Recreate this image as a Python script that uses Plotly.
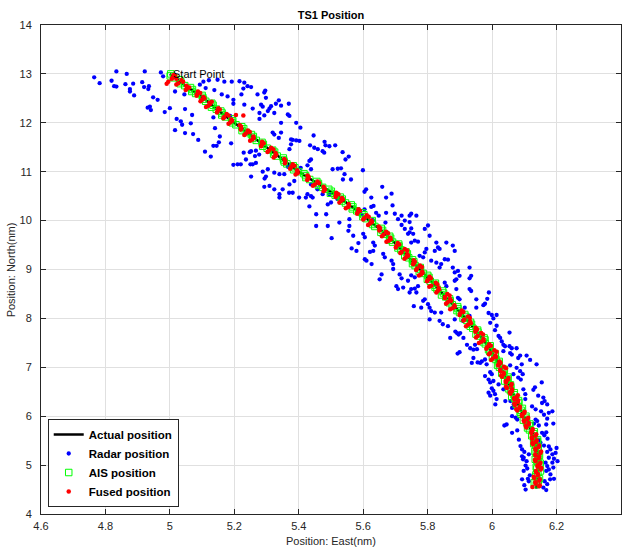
import plotly.graph_objects as go

# ---- Track data (nautical miles) ----
actual_east = [5.000, 5.050, 5.105, 5.150, 5.200, 5.250, 5.300, 5.350, 5.400, 5.460,
               5.520, 5.572, 5.620, 5.665, 5.705, 5.742, 5.776, 5.812, 5.848, 5.884,
               5.918, 5.950, 5.980, 6.005, 6.027, 6.045, 6.062, 6.080, 6.098, 6.118,
               6.136, 6.141, 6.143, 6.140, 6.137]
actual_north = [13.00, 12.75, 12.50, 12.25, 12.00, 11.75, 11.50, 11.25, 11.00, 10.75,
                10.50, 10.25, 10.00, 9.75, 9.50, 9.25, 9.00, 8.75, 8.50, 8.25,
                8.00, 7.75, 7.50, 7.25, 7.00, 6.75, 6.50, 6.25, 6.00, 5.75,
                5.50, 5.25, 5.00, 4.75, 4.52]

radar_east = [
    4.765, 4.782, 4.834, 4.866, 4.922, 4.972, 4.979, 4.819, 4.827, 4.834,
    4.862, 4.886, 4.876, 4.876, 4.889, 4.914, 4.920, 4.935, 4.933, 4.948,
    4.962, 4.931, 4.938, 4.941, 4.984, 5.000, 5.016, 5.021, 5.034, 5.038,
    5.016, 5.047, 5.047, 5.065, 5.069, 5.045, 5.072, 5.088, 5.093, 5.104,
    5.111, 5.121, 5.138, 5.148, 5.135, 5.140, 5.109, 5.127, 5.135, 5.145,
    5.152, 5.155, 5.161, 5.169, 5.179, 5.187, 5.192, 5.197, 5.190, 5.197,
    5.216, 5.231, 5.241, 5.252, 5.228, 5.222, 5.197, 5.231, 5.257, 5.272,
    5.293, 5.296, 5.298, 5.283, 5.288, 5.278, 5.293, 5.304, 5.278, 5.314,
    5.309, 5.324, 5.329, 5.338, 5.345, 5.369, 5.366, 5.371, 5.345, 5.392,
    5.319, 5.324, 5.345, 5.338, 5.376, 5.381, 5.392, 5.402, 5.376, 5.371,
    5.405, 5.446, 5.435, 5.448, 5.459, 5.480, 5.483, 5.495, 5.474, 5.479,
    5.513, 5.536, 5.555, 5.545, 5.438, 5.433, 5.427, 5.438, 5.406, 5.505,
    5.521, 5.531, 5.542, 5.537, 5.599, 5.562, 5.609, 5.604, 5.659, 5.625,
    5.632, 5.625, 5.604, 5.593, 5.583, 5.640, 5.648, 5.671, 5.671, 5.669,
    5.630, 5.557, 5.557, 5.526, 5.485, 5.490, 5.454, 5.454, 5.433, 5.427,
    5.422, 5.438, 5.401, 5.381, 5.370, 5.350, 5.340, 5.340, 5.324, 5.309,
    5.293, 5.298, 5.294, 5.288, 5.304, 5.267, 5.257, 5.250, 5.248, 5.252,
    5.267, 5.264, 5.277, 5.229, 5.236, 5.210, 5.220, 5.252, 5.355, 5.366,
    5.376, 5.324, 5.340, 5.438, 5.458, 5.479, 5.474, 5.495, 5.500, 5.490,
    5.443, 5.520, 5.371, 5.386,
    5.688, 5.691, 5.698, 5.719, 5.708, 5.749, 5.744, 5.765, 5.729, 5.744,
    5.719, 5.729, 5.749, 5.744, 5.755, 5.760, 5.770, 5.749, 5.791, 5.801,
    5.739, 5.806, 5.827, 5.822, 5.832, 5.837, 5.858, 5.878, 5.884, 5.863,
    5.853, 5.811, 5.791, 5.796, 5.775, 5.786, 5.827, 5.842, 5.837, 5.878,
    5.884, 5.894, 5.899, 5.930, 5.889, 5.884, 5.935, 5.930, 5.853, 5.858,
    5.889, 5.930, 5.935, 5.899, 5.894, 5.915, 5.951, 5.930, 5.884, 5.909,
    5.951, 5.502, 5.554, 5.569, 5.585, 5.579, 5.564, 5.600, 5.605, 5.631,
    5.636, 5.621, 5.631, 5.605, 5.610, 5.626, 5.662, 5.667, 5.688, 5.693,
    5.693, 5.657, 5.651, 5.713, 5.719, 5.703, 5.708, 5.724, 5.749, 5.744,
    5.760, 5.770, 5.765, 5.749, 5.760, 5.739, 5.791, 5.786, 5.757, 5.780,
    5.801, 5.806, 5.811, 5.822, 5.806, 5.837, 5.847, 5.863, 5.842, 5.990,
    5.985,
    5.886, 5.891, 5.901, 5.896, 5.870, 5.911, 5.922, 5.899, 5.893, 5.932,
    5.942, 5.947, 5.953, 5.937, 5.955, 5.968, 5.942, 5.978, 5.994, 5.999,
    5.989, 5.994, 6.004, 5.999, 6.004, 5.989, 5.994, 6.009, 6.020, 6.014,
    6.035, 5.973, 5.978, 5.989, 5.999, 6.004, 6.014, 5.994, 6.014, 6.009,
    6.054, 6.020, 6.025, 6.030, 6.035, 6.040, 6.054, 6.061, 6.076, 6.035,
    6.056, 6.061, 6.087, 6.081, 6.107, 6.118, 6.138, 6.092, 6.076, 6.056,
    6.087, 6.095, 6.081, 6.089, 6.066, 6.133, 6.128, 6.154, 6.097, 6.103,
    6.076, 6.103, 6.143, 6.159, 5.978, 5.983, 5.963,
    6.010, 6.041, 6.057, 6.067, 6.062, 6.124, 6.135, 6.155, 6.163, 6.171,
    6.152, 6.161, 6.176, 6.187, 6.062, 6.073, 6.078, 6.045, 6.038, 6.062,
    6.078, 6.135, 6.140, 6.130, 6.145, 6.171, 6.190, 6.168, 6.155, 6.168,
    6.162, 6.172, 6.145, 6.150, 6.161, 6.083, 6.088, 6.093, 6.100, 6.093,
    6.096, 6.114, 6.176, 6.181, 6.171, 6.200, 6.197, 6.187, 6.176, 6.203,
    6.192, 6.187, 6.166, 6.171, 6.176, 6.190, 6.168, 6.181, 6.192, 6.180,
    6.163, 6.171, 6.159, 6.168, 6.104, 6.109, 6.098, 6.117, 6.111, 6.093,
    6.100, 6.104, 6.114, 6.098, 6.107,
]
radar_north = [
    12.93, 12.81, 13.05, 13.00, 13.05, 13.03, 12.95, 12.86, 12.75, 12.74,
    12.79, 12.80, 12.69, 12.64, 12.56, 12.83, 12.73, 12.75, 12.69, 12.52,
    12.47, 12.31, 12.33, 12.26, 12.22, 12.30, 12.64, 12.08, 12.03, 11.96,
    11.85, 12.28, 11.79, 11.99, 12.16, 12.58, 11.77, 11.65, 12.78, 12.84,
    12.71, 12.87, 12.67, 12.88, 12.11, 11.89, 11.41, 11.31, 11.53, 11.53,
    11.60, 11.72, 12.58, 12.84, 12.54, 12.14, 12.84, 12.47, 11.58, 11.14,
    12.85, 12.82, 12.75, 12.73, 12.70, 12.58, 12.39, 12.37, 12.29, 12.58,
    12.62, 12.66, 12.51, 12.37, 12.33, 12.20, 12.15, 12.24, 12.08, 12.34,
    12.29, 12.20, 12.39, 12.46, 12.35, 12.39, 12.17, 12.14, 12.00, 12.00,
    11.80, 11.76, 11.80, 11.69, 11.66, 11.65, 11.64, 11.63, 11.56, 11.46,
    11.90, 11.74, 11.54, 11.49, 11.46, 11.61, 11.54, 11.52, 11.42, 11.39,
    11.54, 11.40, 11.31, 11.25, 11.25, 11.22, 11.13, 11.05, 11.08, 11.05,
    11.06, 11.07, 10.95, 10.84, 11.03, 10.84, 10.64, 10.59, 10.69, 10.47,
    10.30, 10.28, 10.23, 10.13, 10.20, 10.16, 10.10, 10.47, 10.16, 9.96,
    10.01, 10.03, 9.89, 9.96, 10.13, 9.89, 10.13, 9.89, 10.29, 10.54,
    10.47, 10.50, 10.47, 10.57, 10.57, 10.64, 10.54, 10.47, 10.64, 10.71,
    10.69, 10.90, 10.86, 11.00, 11.05, 11.18, 11.15, 11.15, 11.40, 11.42,
    11.43, 11.32, 11.35, 11.39, 11.25, 11.15, 11.15, 10.90, 10.95, 11.10,
    11.15, 10.98, 10.95, 10.74, 10.64, 10.61, 10.54, 10.54, 10.37, 10.33,
    10.47, 10.44, 10.74, 10.81,
    10.55, 10.31, 10.14, 10.10, 10.03, 10.14, 10.10, 10.10, 10.00, 9.97,
    9.91, 9.83, 9.84, 9.76, 9.73, 9.59, 9.57, 9.55, 9.83, 9.90,
    9.73, 9.69, 9.55, 9.38, 9.45, 9.42, 9.55, 9.49, 9.38, 9.20,
    9.21, 9.18, 9.35, 9.42, 9.28, 9.25, 9.14, 9.11, 9.04, 9.04,
    8.94, 8.97, 8.87, 9.04, 8.80, 8.77, 8.87, 8.82, 8.73, 8.66,
    8.60, 8.60, 8.56, 8.39, 8.42, 8.22, 8.22, 8.05, 7.98, 7.95,
    8.39, 9.64, 9.79, 9.69, 9.54, 9.38, 9.43, 9.73, 9.66, 9.55,
    9.49, 9.36, 9.38, 9.21, 9.18, 9.11, 9.32, 9.25, 9.18, 9.11,
    9.01, 8.90, 8.80, 8.90, 8.82, 8.66, 8.60, 8.63, 8.60, 8.53,
    8.61, 8.66, 8.53, 8.88, 8.84, 8.77, 8.39, 8.36, 8.25, 8.22,
    8.29, 8.22, 8.15, 8.12, 7.98, 7.95, 7.88, 7.84, 8.12, 8.53,
    8.40,
    7.73, 7.70, 7.70, 7.67, 7.60, 7.60, 7.46, 7.31, 7.28, 7.39,
    7.36, 7.46, 7.37, 7.09, 7.10, 7.12, 7.19, 7.16, 6.90, 6.86,
    6.75, 6.69, 6.72, 6.57, 6.52, 6.48, 6.42, 6.45, 6.65, 6.35,
    6.55, 8.27, 8.30, 8.11, 8.07, 8.00, 8.07, 7.91, 7.85, 7.76,
    7.71, 7.64, 7.60, 7.53, 7.46, 7.43, 7.43, 7.39, 7.39, 7.33,
    7.29, 7.26, 7.24, 7.19, 7.24, 7.15, 7.06, 7.06, 6.99, 7.04,
    6.92, 6.86, 6.79, 6.75, 6.86, 6.59, 6.54, 6.69, 6.55, 6.45,
    6.35, 6.35, 6.42, 6.38, 6.82, 7.06, 7.09,
    6.24, 6.31, 6.31, 6.24, 6.17, 6.20, 6.14, 6.27, 6.31, 6.24,
    6.10, 6.03, 6.07, 6.10, 6.00, 5.97, 5.93, 5.83, 5.81, 5.66,
    5.71, 5.93, 5.90, 5.85, 5.81, 5.95, 5.85, 5.83, 5.66, 5.67,
    5.61, 5.54, 5.52, 5.46, 5.40, 5.52, 5.39, 5.32, 5.27, 5.18,
    5.12, 5.22, 5.38, 5.32, 5.27, 5.35, 5.25, 5.22, 5.15, 5.08,
    5.13, 5.05, 5.05, 4.98, 4.91, 4.95, 4.88, 4.81, 4.72, 4.71,
    4.67, 4.61, 4.54, 4.49, 4.99, 4.93, 4.88, 4.79, 4.72, 4.71,
    4.59, 4.50, 4.67, 5.15, 5.08,
]

ais_east = [
    5.003, 5.012, 5.034, 5.046, 5.070, 5.080, 5.102, 5.111, 5.134, 5.144,
    5.162, 5.172, 5.195, 5.205, 5.229, 5.238, 5.259, 5.268, 5.290, 5.302,
    5.325, 5.333, 5.353, 5.363, 5.388, 5.399, 5.421, 5.434, 5.461, 5.474,
    5.501, 5.513, 5.535, 5.545, 5.568, 5.580, 5.602, 5.609, 5.628, 5.636,
    5.660, 5.669, 5.685, 5.691, 5.711, 5.717, 5.737, 5.741, 5.757, 5.761,
    5.778, 5.786, 5.804, 5.808, 5.823, 5.829, 5.849, 5.856, 5.870, 5.876,
    5.894, 5.899, 5.918, 5.921, 5.936, 5.940, 5.956, 5.961, 5.978, 5.979,
    5.991, 5.993, 6.010, 6.012, 6.022, 6.023, 6.036, 6.036, 6.049, 6.048,
    6.058, 6.057, 6.068, 6.070, 6.083, 6.081, 6.090, 6.090, 6.105, 6.107,
    6.116, 6.116, 6.129, 6.129, 6.141, 6.135, 6.142, 6.137, 6.144, 6.140,
    6.148, 6.139, 6.142, 6.135, 6.143, 6.137,
    5.001, 5.030, 5.032, 5.064, 5.068, 5.100, 5.104, 5.130, 5.129, 5.158,
    5.161, 5.192, 5.194, 5.223, 5.224, 5.253, 5.257, 5.286, 5.288, 5.319,
    5.322, 5.352, 5.355, 5.383, 5.384, 5.416, 5.422, 5.456, 5.461, 5.493,
    5.498, 5.529, 5.534, 5.563, 5.566, 5.596, 5.599, 5.628, 5.629, 5.656,
    5.655, 5.682, 5.682, 5.710, 5.708, 5.733, 5.729, 5.753, 5.753, 5.777,
    5.774, 5.800, 5.799, 5.824, 5.823, 5.846, 5.843, 5.868, 5.867, 5.893,
    5.891, 5.915, 5.910, 5.933, 5.932, 5.955, 5.950, 5.975, 5.972, 5.994,
    5.989, 6.009, 6.001, 6.022, 6.017, 6.038, 6.030, 6.049, 6.039, 6.057,
    6.051, 6.069, 6.061, 6.082, 6.075, 6.094, 6.087, 6.105, 6.097, 6.117,
    6.110, 6.131, 6.123, 6.141, 6.129, 6.143, 6.133, 6.147, 6.134, 6.149,
    6.137, 6.150, 6.136, 6.147, 6.131,
]
ais_north = [
    13.00, 12.92, 12.84, 12.76, 12.68, 12.60, 12.52, 12.44, 12.36, 12.28,
    12.20, 12.12, 12.04, 11.96, 11.88, 11.80, 11.72, 11.64, 11.56, 11.48,
    11.40, 11.32, 11.24, 11.16, 11.08, 11.00, 10.92, 10.84, 10.76, 10.68,
    10.60, 10.52, 10.44, 10.36, 10.28, 10.20, 10.12, 10.04, 9.96, 9.88,
    9.80, 9.72, 9.64, 9.56, 9.48, 9.40, 9.32, 9.24, 9.16, 9.08,
    9.00, 8.92, 8.84, 8.76, 8.68, 8.60, 8.52, 8.44, 8.36, 8.28,
    8.20, 8.12, 8.04, 7.96, 7.88, 7.80, 7.72, 7.64, 7.56, 7.48,
    7.40, 7.32, 7.24, 7.16, 7.08, 7.00, 6.92, 6.84, 6.76, 6.68,
    6.60, 6.52, 6.44, 6.36, 6.28, 6.20, 6.12, 6.04, 5.96, 5.88,
    5.80, 5.72, 5.64, 5.56, 5.48, 5.40, 5.32, 5.24, 5.16, 5.08,
    5.00, 4.92, 4.84, 4.76, 4.68, 4.60,
    12.96, 12.88, 12.80, 12.72, 12.64, 12.56, 12.48, 12.40, 12.32, 12.24,
    12.16, 12.08, 12.00, 11.92, 11.84, 11.76, 11.68, 11.60, 11.52, 11.44,
    11.36, 11.28, 11.20, 11.12, 11.04, 10.96, 10.88, 10.80, 10.72, 10.64,
    10.56, 10.48, 10.40, 10.32, 10.24, 10.16, 10.08, 10.00, 9.92, 9.84,
    9.76, 9.68, 9.60, 9.52, 9.44, 9.36, 9.28, 9.20, 9.12, 9.04,
    8.96, 8.88, 8.80, 8.72, 8.64, 8.56, 8.48, 8.40, 8.32, 8.24,
    8.16, 8.08, 8.00, 7.92, 7.84, 7.76, 7.68, 7.60, 7.52, 7.44,
    7.36, 7.28, 7.20, 7.12, 7.04, 6.96, 6.88, 6.80, 6.72, 6.64,
    6.56, 6.48, 6.40, 6.32, 6.24, 6.16, 6.08, 6.00, 5.92, 5.84,
    5.76, 5.68, 5.60, 5.52, 5.44, 5.36, 5.28, 5.20, 5.12, 5.04,
    4.96, 4.88, 4.80, 4.72, 4.64,
]

fused_east = [
    5.012, 5.009, 5.036, 5.026, 5.051, 5.053, 5.087, 5.084, 5.104, 5.100,
    5.123, 5.119, 5.150, 5.148, 5.176, 5.169, 5.191, 5.188, 5.217, 5.221,
    5.242, 5.236, 5.259, 5.256, 5.286, 5.285, 5.314, 5.307, 5.328, 5.327,
    5.355, 5.358, 5.381, 5.376, 5.395, 5.396, 5.427, 5.429, 5.458, 5.450,
    5.477, 5.481, 5.516, 5.515, 5.534, 5.531, 5.555, 5.553, 5.585, 5.583,
    5.611, 5.603, 5.625, 5.621, 5.648, 5.651, 5.671, 5.663, 5.684, 5.679,
    5.707, 5.703, 5.729, 5.719, 5.737, 5.733, 5.757, 5.756, 5.776, 5.767,
    5.783, 5.779, 5.806, 5.801, 5.825, 5.811, 5.834, 5.831, 5.861, 5.854,
    5.870, 5.862, 5.883, 5.877, 5.906, 5.901, 5.925, 5.914, 5.932, 5.925,
    5.949, 5.949, 5.966, 5.955, 5.973, 5.966, 5.991, 5.984, 6.007, 5.994,
    6.010, 6.002, 6.023, 6.020, 6.037, 6.025, 6.036, 6.028, 6.051, 6.042,
    6.061, 6.043, 6.062, 6.055, 6.080, 6.068, 6.081, 6.069, 6.086, 6.075,
    6.101, 6.092, 6.112, 6.098, 6.114, 6.104, 6.126, 6.122, 6.137, 6.123,
    6.138, 6.125, 6.146, 6.134, 6.152, 6.134, 6.146, 6.133, 6.150, 6.141,
    6.153, 6.136, 6.142, 6.129, 6.148, 6.134, 6.148, 6.125,
    4.995, 4.990, 5.020, 5.060, 5.130, 5.205, 5.228,
    5.016, 5.006, 5.041, 5.020, 5.053, 5.049, 5.094, 5.083, 5.107, 5.095,
    5.124, 5.112, 5.155, 5.146, 5.182, 5.166, 5.193, 5.182, 5.221, 5.220,
    5.248, 5.231, 5.260, 5.249, 5.291, 5.283, 5.321, 5.303, 5.330, 5.322,
    5.358, 5.357, 5.387, 5.373, 5.396, 5.390, 5.431, 5.426, 5.463, 5.444,
    5.479, 5.477, 5.523, 5.514, 5.537, 5.526, 5.556, 5.546, 5.590, 5.581,
    5.617, 5.600, 5.627, 5.615, 5.652, 5.650, 5.677, 5.658, 5.685, 5.672,
    5.712, 5.701, 5.736, 5.715, 5.739, 5.728, 5.760, 5.755, 5.782, 5.764,
    5.784, 5.773, 5.810, 5.798, 5.830, 5.805, 5.836, 5.827, 5.868, 5.853,
    5.873, 5.857, 5.884, 5.870, 5.911, 5.899, 5.931, 5.911, 5.934, 5.919,
    5.953, 5.948, 5.972, 5.950, 5.974, 5.959, 5.996, 5.982, 6.014, 5.990,
    6.012, 5.997, 6.026, 6.019, 6.043, 6.026, 6.036, 6.031, 6.049, 6.043,
    6.059, 6.046, 6.062, 6.057, 6.077, 6.069, 6.080, 6.071, 6.086, 6.078,
    6.099, 6.093, 6.109, 6.100, 6.113, 6.106, 6.125, 6.122, 6.135, 6.124,
    6.137, 6.127, 6.145, 6.135, 6.150, 6.135, 6.145, 6.135, 6.148, 6.141,
    6.151, 6.137, 6.142, 6.131, 6.146, 6.135, 6.146,
]
fused_north = [
    12.98, 12.93, 12.87, 12.81, 12.76, 12.70, 12.64, 12.58, 12.53, 12.47,
    12.41, 12.35, 12.30, 12.24, 12.18, 12.12, 12.07, 12.01, 11.95, 11.89,
    11.84, 11.78, 11.72, 11.66, 11.61, 11.55, 11.49, 11.43, 11.38, 11.32,
    11.26, 11.20, 11.15, 11.09, 11.03, 10.97, 10.92, 10.86, 10.80, 10.74,
    10.69, 10.63, 10.57, 10.51, 10.46, 10.40, 10.34, 10.28, 10.23, 10.17,
    10.11, 10.05, 10.00, 9.94, 9.88, 9.82, 9.77, 9.71, 9.65, 9.59,
    9.54, 9.48, 9.42, 9.36, 9.31, 9.25, 9.19, 9.13, 9.08, 9.02,
    8.96, 8.90, 8.85, 8.79, 8.73, 8.67, 8.62, 8.56, 8.50, 8.44,
    8.39, 8.33, 8.27, 8.21, 8.16, 8.10, 8.04, 7.98, 7.93, 7.87,
    7.81, 7.75, 7.70, 7.64, 7.58, 7.52, 7.47, 7.41, 7.35, 7.29,
    7.24, 7.18, 7.12, 7.06, 7.01, 6.95, 6.89, 6.83, 6.78, 6.72,
    6.66, 6.60, 6.55, 6.49, 6.43, 6.37, 6.32, 6.26, 6.20, 6.14,
    6.09, 6.03, 5.97, 5.91, 5.86, 5.80, 5.74, 5.68, 5.63, 5.57,
    5.51, 5.45, 5.40, 5.34, 5.28, 5.22, 5.17, 5.11, 5.05, 4.99,
    4.94, 4.88, 4.82, 4.76, 4.71, 4.65, 4.59, 4.55,
    12.84, 12.80, 12.90, 12.72, 12.43, 12.16, 12.15,
    12.955, 12.90, 12.84, 12.785, 12.73, 12.67, 12.61, 12.555, 12.50, 12.44,
    12.38, 12.325, 12.27, 12.21, 12.15, 12.095, 12.04, 11.98, 11.92, 11.865,
    11.81, 11.75, 11.69, 11.635, 11.58, 11.52, 11.46, 11.405, 11.35, 11.29,
    11.23, 11.175, 11.12, 11.06, 11.00, 10.945, 10.89, 10.83, 10.77, 10.715,
    10.66, 10.60, 10.54, 10.485, 10.43, 10.37, 10.31, 10.255, 10.20, 10.14,
    10.08, 10.025, 9.97, 9.91, 9.85, 9.795, 9.74, 9.68, 9.62, 9.565,
    9.51, 9.45, 9.39, 9.335, 9.28, 9.22, 9.16, 9.105, 9.05, 8.99,
    8.93, 8.875, 8.82, 8.76, 8.70, 8.645, 8.59, 8.53, 8.47, 8.415,
    8.36, 8.30, 8.24, 8.185, 8.13, 8.07, 8.01, 7.955, 7.90, 7.84,
    7.78, 7.725, 7.67, 7.61, 7.55, 7.495, 7.44, 7.38, 7.32, 7.265,
    7.21, 7.15, 7.09, 7.035, 6.98, 6.92, 6.86, 6.805, 6.75, 6.69,
    6.63, 6.575, 6.52, 6.46, 6.40, 6.345, 6.29, 6.23, 6.17, 6.115,
    6.06, 6.00, 5.94, 5.885, 5.83, 5.77, 5.71, 5.655, 5.60, 5.54,
    5.48, 5.425, 5.37, 5.31, 5.25, 5.195, 5.14, 5.08, 5.02, 4.965,
    4.91, 4.85, 4.79, 4.735, 4.68, 4.62, 4.57,
]

east_ticks = [4.6, 4.8, 5.0, 5.2, 5.4, 5.6, 5.8, 6.0, 6.2, 6.4]
east_labels = ["4.6", "4.8", "5", "5.2", "5.4", "5.6", "5.8", "6", "6.2", "6.4"]
north_ticks = [4, 5, 6, 7, 8, 9, 10, 11, 12, 13, 14]

FONT = "Liberation Sans, Arial, Helvetica, sans-serif"
AXIS_COLOR = "#262626"
GRID_COLOR = "#e0e0e0"

fig = go.Figure()

fig.add_trace(go.Scatter(
    x=actual_east, y=actual_north, mode="lines", name="Actual position",
    line=dict(color="black", width=2.5),
))
fig.add_trace(go.Scatter(
    x=radar_east, y=radar_north, mode="markers", name="Radar position",
    marker=dict(color="#0000ff", size=4.3, line=dict(width=0)),
))
fig.add_trace(go.Scatter(
    x=ais_east, y=ais_north, mode="markers", name="AIS position",
    marker=dict(symbol="square-open", color="#00ff00", size=6.5,
                line=dict(width=1, color="#00ff00")),
))
fig.add_trace(go.Scatter(
    x=fused_east, y=fused_north, mode="markers", name="Fused position",
    marker=dict(color="#ff0000", size=4.5, line=dict(width=0)),
))

fig.add_annotation(
    x=actual_east[0], y=actual_north[0], xref="x", yref="y",
    text="Start Point", showarrow=False, xanchor="left", yanchor="middle",
    xshift=1, font=dict(family=FONT, size=11, color="black"),
)

# Axis titles placed as paper annotations
fig.add_annotation(
    x=0.5, y=-0.055, xref="paper", yref="paper", text="Position: East(nm)",
    showarrow=False, xanchor="center", yanchor="middle",
    font=dict(family=FONT, size=11, color=AXIS_COLOR),
)
fig.add_annotation(
    x=-0.052, y=0.5, xref="paper", yref="paper", text="Position: North(nm)",
    showarrow=False, textangle=-90, xanchor="center", yanchor="middle",
    font=dict(family=FONT, size=11, color=AXIS_COLOR),
)

axis_common = dict(
    showgrid=True, gridcolor=GRID_COLOR, gridwidth=1,
    showline=True, linecolor=AXIS_COLOR, linewidth=1, mirror="ticks",
    ticks="inside", ticklen=5, tickwidth=1, tickcolor=AXIS_COLOR,
    tickfont=dict(family=FONT, size=11, color=AXIS_COLOR),
    zeroline=False, automargin=False,
)

fig.update_layout(
    width=628, height=552,
    margin=dict(l=41, r=7, t=25, b=38),
    paper_bgcolor="white", plot_bgcolor="white",
    title=dict(text="<b>TS1 Position</b>", x=0.5, xref="paper", xanchor="center",
               y=1 - 15.5 / 552, yref="container", yanchor="middle",
               font=dict(family=FONT, size=11, color="black")),
    xaxis=dict(range=[4.6, 6.4], tickvals=east_ticks, ticktext=east_labels,
               ticklabelstandoff=2, **axis_common),
    yaxis=dict(range=[4, 14], tickvals=north_ticks, ticklabelstandoff=6,
               **axis_common),
    legend=dict(x=0.0116, y=0.0143, xanchor="left", yanchor="bottom",
                bgcolor="white", bordercolor="#262626", borderwidth=1,
                font=dict(family=FONT, size=11.5, color="black", weight="bold"),
                itemwidth=30, tracegroupgap=0),
    showlegend=True,
)

fig.write_html("out.html")
